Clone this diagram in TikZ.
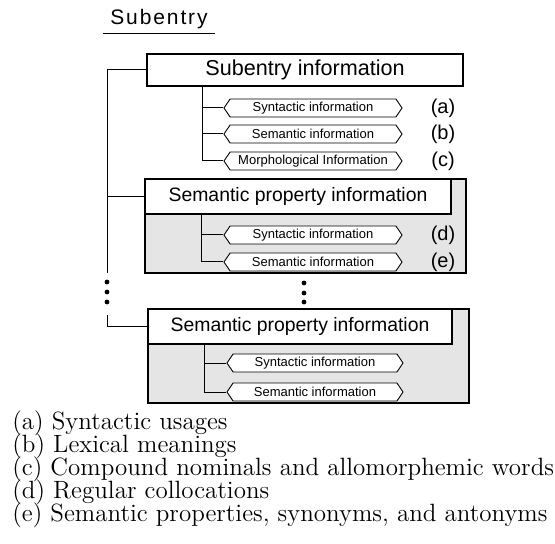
\documentclass[tikz,border=0pt]{standalone}
\usepackage{fontspec}
\usetikzlibrary{shapes.symbols}
\newfontfamily\diasans{Liberation Sans}
\newfontfamily\headsans[LetterSpace=9]{Liberation Sans}
\begin{document}
\begin{tikzpicture}[x=0.5pt,y=-0.5pt,
  titlebox/.style={draw,line width=0.75pt,fill=white,inner sep=0pt,
    font=\diasans\fontsize{10.8}{12}\selectfont},
  sptitle/.style={draw,line width=0.75pt,fill=white,inner sep=0pt,
    minimum height=17.5pt,font=\diasans\fontsize{9.7}{11}\selectfont},
  shadebox/.style={draw,line width=0.6pt,fill=gray!20,inner sep=0pt,
    minimum width=160.5pt,minimum height=47pt},
  hexbox/.style={signal,signal to=west and east,signal pointer angle=112,
    draw,line width=0.45pt,fill=white,inner sep=0pt,minimum width=89pt,
    minimum height=9pt,font=\diasans\fontsize{6.5}{7}\selectfont},
  lab/.style={font=\diasans\fontsize{10}{11}\selectfont,inner sep=0pt},
  conn/.style={line width=0.5pt},
  dotmark/.style={circle,fill=black,inner sep=0pt,minimum size=2.4pt},
  captext/.style={anchor=west,inner sep=0pt,font=\fontsize{12.5}{14}\selectfont}
]
\useasboundingbox (0,0) rectangle (555,544);

% heading
\node[anchor=south,inner xsep=3.5pt,inner ysep=2.5pt,
  font=\headsans\fontsize{10.5}{12}\selectfont] (H) at (159,34) {Subentry};
\draw[line width=0.5pt] (H.south west) -- (H.south east);

% subentry information block
\node[titlebox,minimum width=158pt,minimum height=16pt] (T) at (305,70) {Subentry information};
\node[hexbox] (h1) at (313,108) {Syntactic information};
\node[hexbox] (h2) at (313,134) {Semantic information};
\node[hexbox] (h3) at (313,161) {Morphological Information};
\node[lab] (la) at (443,108) {(a)};
\node[lab] (lb) at (443,134) {(b)};
\node[lab] (lc) at (443,161) {(c)};
\coordinate (v1) at ([xshift=28pt]T.south west);
\draw[conn] (v1) |- (h3.west);
\draw[conn] (h1.west) -- (h1.west -| v1);
\draw[conn] (h2.west) -- (h2.west -| v1);

% first semantic property block
\node[shadebox] (S1) at (305.5,226) {};
\node[sptitle,minimum width=153pt] (P1) at (298,196.5) {Semantic property information};
\node[hexbox] (h4) at (313,235) {Syntactic information};
\node[hexbox] (h5) at (313,262) {Semantic information};
\node[lab] (ld) at (443,235) {(d)};
\node[lab] (le) at (443,262) {(e)};
\coordinate (v2) at ([xshift=28.5pt]P1.south west);
\draw[conn] (v2) |- (h5.west);
\draw[conn] (h4.west) -- (h4.west -| v2);

% second semantic property block
\node[shadebox] (S2) at (308.5,356) {};
\node[sptitle,minimum width=152pt] (P2) at (300,326.5) {Semantic property information};
\node[hexbox,minimum width=88pt] (h6) at (315,363) {Syntactic information};
\node[hexbox,minimum width=88pt] (h7) at (315,392) {Semantic information};
\coordinate (v3) at ([xshift=28.5pt]P2.south west);
\draw[conn] (v3) |- (h7.west);
\draw[conn] (h6.west) -- (h6.west -| v3);

% outer left tree
\coordinate (Lend) at (107,273);
\draw[conn] (T.west) -| (Lend);
\draw[conn] (P1.west) -- (P1.west -| Lend);
\node[dotmark] (d1) at (107,282) {};
\node[dotmark] (d2) at (107,292) {};
\node[dotmark] (d3) at (107,302) {};
\coordinate (Lstart) at (107,315);
\draw[conn] (Lstart) |- (P2.west);

% middle dots
\node[dotmark] (m1) at (304,283) {};
\node[dotmark] (m2) at (304,293) {};
\node[dotmark] (m3) at (304,302) {};

% captions
\node[captext] (ca) at (12,423) {(a) Syntactic usages};
\node[captext] (cb) at (12,446.5) {(b) Lexical meanings};
\node[captext] (cc) at (12,469.5) {(c) Compound nominals and allomorphemic words};
\node[captext] (cd) at (12,492.5) {(d) Regular collocations};
\node[captext] (ce) at (12,515.5) {(e) Semantic properties, synonyms, and antonyms};
\end{tikzpicture}
\end{document}
